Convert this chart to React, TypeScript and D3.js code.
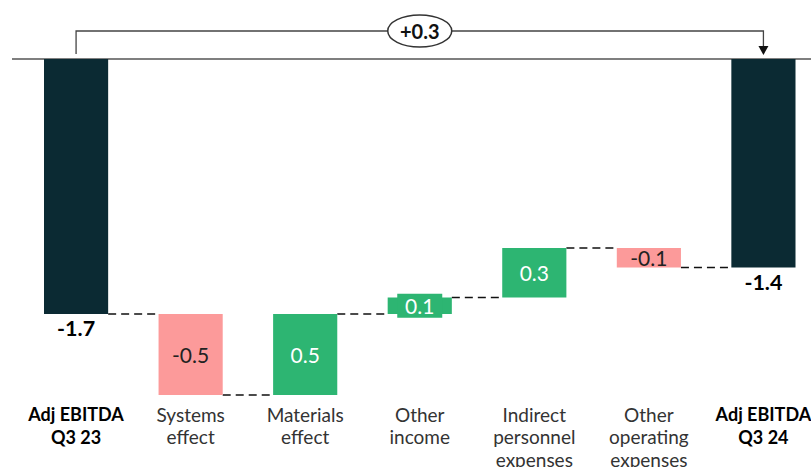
import React from 'react'
import * as d3 from 'd3'

const categories = ['q3_23', 'systems', 'materials', 'otherIncome', 'indirect', 'otherOpex', 'q3_24']
const labelLines = [
  ['Adj EBITDA', 'Q3 23'],
  ['Systems', 'effect'],
  ['Materials', 'effect'],
  ['Other', 'income'],
  ['Indirect', 'personnel', 'expenses'],
  ['Other', 'operating', 'expenses'],
  ['Adj EBITDA', 'Q3 24'],
]
const kinds = ['total', 'delta', 'delta', 'delta', 'delta', 'delta', 'total']
const values = [-1.7, -0.54, 0.54, 0.11, 0.33, -0.13, -1.39]
const valueLabels = ['-1.7', '-0.5', '0.5', '0.1', '0.3', '-0.1', '-1.4']
const bridgeLabel = '+0.3'

const W = 811
const H = 467
const FONT = 'Lato, "Noto Sans", sans-serif'
const C_TOTAL = '#0b2a33'
const C_POS = '#2db572'
const C_NEG = '#fc9a9a'

export default function App() {
  const x = d3.scaleBand<string>().domain(categories).range([44, 795.5]).paddingInner(0.44).paddingOuter(0)
  const y = d3.scaleLinear().domain([0, -1.7]).range([59, 314])

  // running totals
  let cum = 0
  const bars = values.map((v, i) => {
    let y0, y1
    if (kinds[i] === 'total') {
      y0 = 0
      y1 = v
      cum = v
    } else {
      y0 = cum
      y1 = cum + v
      cum = y1
    }
    const color = kinds[i] === 'total' ? C_TOTAL : v >= 0 ? C_POS : C_NEG
    return { key: categories[i], y0, y1, end: cum, color, label: valueLabels[i], kind: kinds[i], v }
  })

  const bw = x.bandwidth()
  const cx = (k: string) => (x(k) as number) + bw / 2
  const first = cx(categories[0])
  const last = cx(categories[categories.length - 1])
  const bracketY = 31

  return (
    <div style={{ position: 'absolute', left: 0, top: 0 }}>
      <svg width={W} height={H} style={{ display: 'block', fontFamily: FONT }}>
        <rect width={W} height={H} fill="#fff" />
        {/* baseline */}
        <line x1={12} x2={W} y1={y(0)} y2={y(0)} stroke="#555" strokeWidth={1.5} />

        {/* connectors */}
        {bars.slice(0, -1).map((b, i) => (
          <line
            key={'c' + i}
            x1={(x(b.key) as number) + bw}
            x2={x(categories[i + 1]) as number}
            y1={y(b.end)}
            y2={y(b.end)}
            stroke="#111"
            strokeWidth={1.3}
            strokeDasharray="8,5"
          />
        ))}

        {/* bars */}
        {bars.map((b) => {
          const top = Math.min(y(b.y0), y(b.y1))
          const h = Math.abs(y(b.y1) - y(b.y0))
          return <rect key={b.key} x={x(b.key)} y={top} width={bw} height={h} fill={b.color} />
        })}

        {/* value labels */}
        {bars.map((b) => {
          const mid = (y(b.y0) + y(b.y1)) / 2
          if (b.kind === 'total') {
            return (
              <text key={'v' + b.key} x={cx(b.key)} y={y(b.y1) + 14} textAnchor="middle" dominantBaseline="central"
                fontSize={21.5} fontWeight={700} fill="#000">
                {b.label}
              </text>
            )
          }
          const h = Math.abs(y(b.y1) - y(b.y0))
          return (
            <g key={'v' + b.key}>
              {h < 18 && <rect x={cx(b.key) - 22.5} y={mid - 12} width={45} height={24} fill={b.color} />}
              <text x={cx(b.key)} y={mid} textAnchor="middle" dominantBaseline="central" fontSize={21}
                fontWeight={400} fill={b.v >= 0 ? '#fff' : '#222'}>
                {b.label}
              </text>
            </g>
          )
        })}

        {/* category labels */}
        {labelLines.map((lines, i) => (
          <text key={'l' + i} x={cx(categories[i])} textAnchor="middle" fontSize={kinds[i] === 'total' ? 18 : 19}
            fontWeight={kinds[i] === 'total' ? 700 : 400} fill={kinds[i] === 'total' ? '#000' : '#333'}>
            {lines.map((t, j) => (
              <tspan key={j} x={cx(categories[i])} y={414 + j * 22.5} dominantBaseline="central">{t}</tspan>
            ))}
          </text>
        ))}

        {/* bridge */}
        <path
          d={`M${first},${y(0) - 5}V${bracketY}H${last}V${y(0) - 10}`}
          fill="none"
          stroke="#444"
          strokeWidth={1.3}
        />
        <path d={`M${last - 5},${y(0) - 13}L${last + 5},${y(0) - 13}L${last},${y(0) - 4}Z`} fill="#111" />
        <ellipse cx={(first + last) / 2} cy={bracketY} rx={32} ry={16} fill="#fff" stroke="#333" strokeWidth={1.5} />
        <text x={(first + last) / 2} y={bracketY} textAnchor="middle" dominantBaseline="central" fontSize={20}
          fontWeight={700} fill="#111">
          {bridgeLabel}
        </text>
      </svg>
    </div>
  )
}
